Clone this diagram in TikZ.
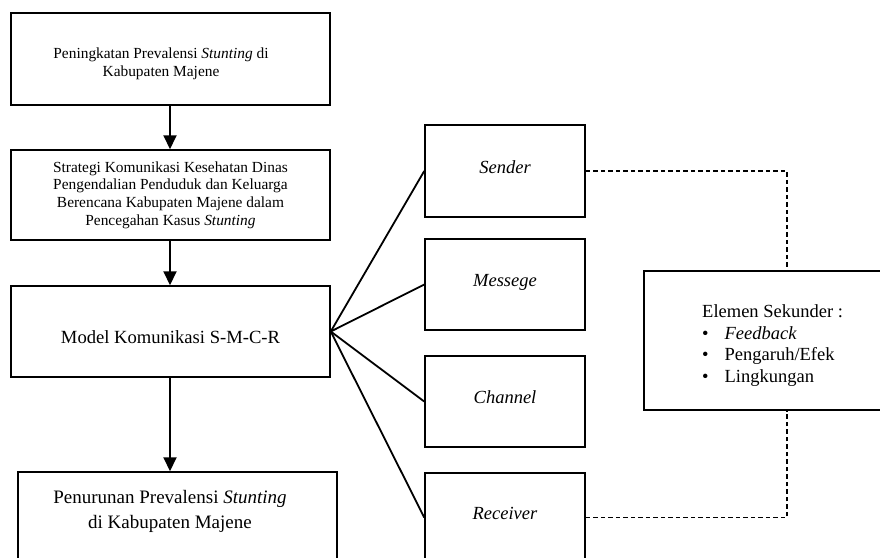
\documentclass[tikz,border=0pt]{standalone}
\usepackage{fontspec}
\setmainfont{Liberation Serif}
\usetikzlibrary{arrows.meta}
\begin{document}
\begin{tikzpicture}[x=1pt,y=-1pt,
  box/.style={draw, line width=1.5pt, inner sep=0pt, anchor=center},
  smalltxt/.style={font=\fontsize{15.4}{18}\selectfont, align=center},
  midtxt/.style={font=\fontsize{18.6}{22}\selectfont},
  bigtxt/.style={font=\fontsize{19}{25}\selectfont, align=center},
  rtxt/.style={font=\fontsize{18.5}{22}\selectfont\itshape, text height=13pt, text depth=9pt},
  flow/.style={line width=2pt, -{Triangle[length=14pt,width=13pt]}},
  fanline/.style={line width=1.8pt},
  fbline/.style={line width=1.6pt, dash pattern=on 4.5pt off 3pt}
]
\path[use as bounding box] (0,0) rectangle (880,557);
\clip (0,0) rectangle (880,557);
\fill[white] (0,0) rectangle (880,557);

% left column
\node[box, minimum width=319pt, minimum height=92pt] (b1) at (170.5,59) {};
\node[smalltxt] (b1t) at (161,64) {Peningkatan Prevalensi \textit{Stunting} di\\Kabupaten Majene};
\node[box, minimum width=319pt, minimum height=90pt, smalltxt, font=\fontsize{15.4}{17.7}\selectfont] (b2) at (170.5,195)
  {Strategi Komunikasi Kesehatan Dinas\\Pengendalian Penduduk dan Keluarga\\Berencana Kabupaten Majene dalam\\Pencegahan Kasus \textit{Stunting}};
\node[box, minimum width=319pt, minimum height=91pt, midtxt, text height=24pt, text depth=0pt] (b3) at (170.5,331.5)
  {Model Komunikasi S-M-C-R};
\node[box, minimum width=319pt, minimum height=128pt] (b4) at (177.5,536) {};
\node[bigtxt] (b4t) at (170,511) {Penurunan Prevalensi \textit{Stunting}\\di Kabupaten Majene};

% right column
\node[box, minimum width=160pt, minimum height=92pt, rtxt] (s) at (505,171) {Sender};
\node[box, minimum width=160pt, minimum height=91pt, rtxt] (m) at (505,284.5) {Messege};
\node[box, minimum width=160pt, minimum height=91pt, rtxt] (c) at (505,401.5) {Channel};
\node[box, minimum width=160pt, minimum height=89pt, rtxt] (r) at (505,517.5) {Receiver};

% secondary elements
\node[box, minimum width=256pt, minimum height=139pt] (e) at (772,340.5) {};
\node[anchor=west, inner sep=0pt, font=\fontsize{18.5}{21.5}\selectfont] (et) at (702,345.5)
  {\begin{tabular}{@{}l@{\hspace{16pt}}l@{}}
   \multicolumn{2}{@{}l@{}}{Elemen Sekunder :}\\
   \textbullet & \textit{Feedback}\\
   \textbullet & Pengaruh/Efek\\
   \textbullet & Lingkungan
   \end{tabular}};

% connectors
\draw[flow] (b1.south -| 170,0) -- (b2.north -| 170,0);
\draw[flow] (b2.south -| 170,0) -- (b3.north -| 170,0);
\draw[flow] (b3.south -| 170,0) -- (b4.north -| 170,0);

\draw[fanline] (b3.east) -- (s.west);
\draw[fanline] (b3.east) -- (m.west);
\draw[fanline] (b3.east) -- (c.west);
\draw[fanline] (b3.east) -- (r.west);

\coordinate (dx) at (787,0);
\draw[fbline] (s.east) -| (dx |- e.north);
\draw[fbline] (r.east) -| (dx |- e.south);
\end{tikzpicture}
\end{document}
